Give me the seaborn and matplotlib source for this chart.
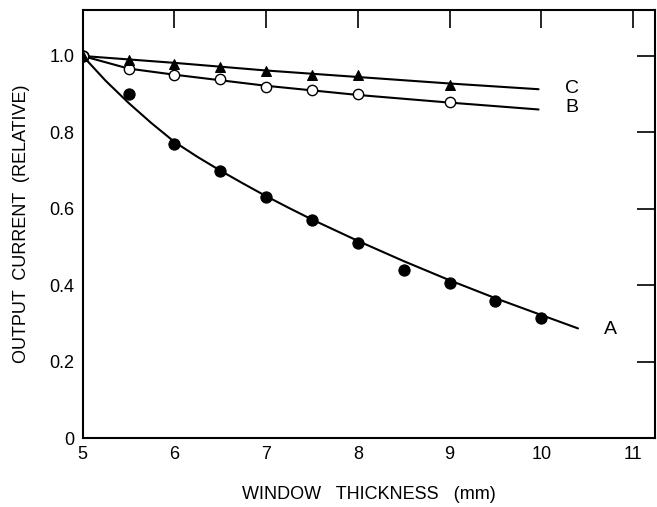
import matplotlib
matplotlib.use("Agg")
import matplotlib.pyplot as plt
import seaborn as sns
import pandas as pd

# Measured points
a_x = [5, 5.5, 6, 6.5, 7, 7.5, 8, 8.5, 9, 9.5, 10]
a_y = [1.0, 0.90, 0.77, 0.70, 0.63, 0.57, 0.51, 0.44, 0.405, 0.36, 0.315]
b_x = [5, 5.5, 6, 6.5, 7, 7.5, 8, 9]
b_y = [1.0, 0.965, 0.95, 0.94, 0.92, 0.91, 0.90, 0.88]
c_x = [5, 5.5, 6, 6.5, 7, 7.5, 8, 9]
c_y = [1.0, 0.99, 0.98, 0.97, 0.96, 0.95, 0.95, 0.925]

# Fitted curves
fa_x = [5, 5.25, 5.5, 5.75, 6, 6.25, 6.5, 6.75, 7, 7.25, 7.5, 8, 8.5, 9, 9.5, 10, 10.4]
fa_y = [1.0, 0.935, 0.877, 0.824, 0.775, 0.736, 0.700, 0.666, 0.633, 0.602, 0.572, 0.516, 0.463, 0.413, 0.366, 0.322, 0.287]
fb_x = [5, 5.5, 6, 7, 8, 9, 9.97]
fb_y = [1.0, 0.967, 0.951, 0.922, 0.898, 0.878, 0.860]
fc_x = [5, 6, 7, 8, 9, 9.97]
fc_y = [1.0, 0.982, 0.962, 0.945, 0.928, 0.913]

x_ticks = [5, 6, 7, 8, 9, 10, 11]
x_labels = ["5", "6", "7", "8", "9", "10", "11"]
y_ticks = [0, 0.2, 0.4, 0.6, 0.8, 1.0]
y_labels = ["0", "0.2", "0.4", "0.6", "0.8", "1.0"]

sns.set_style("white")
plt.rcParams['font.family'] = ['Liberation Sans', 'DejaVu Sans']
plt.rcParams['text.color'] = 'black'
plt.rcParams['axes.labelcolor'] = 'black'

fig = plt.figure(figsize=(6.57, 5.07), dpi=100)
ax = fig.add_axes([0.126, 0.136, 0.871, 0.844])

for fx, fy in [(fa_x, fa_y), (fb_x, fb_y), (fc_x, fc_y)]:
    sns.lineplot(x=fx, y=fy, ax=ax, color="black", linewidth=1.5, sort=False)

sns.scatterplot(x=a_x, y=a_y, ax=ax, marker="o", s=65, color="black",
                edgecolor="black", linewidth=0.8, zorder=5)
sns.scatterplot(x=b_x, y=b_y, ax=ax, marker="o", s=55, facecolor="white",
                edgecolor="black", linewidth=1.0, zorder=5)
sns.scatterplot(x=c_x, y=c_y, ax=ax, marker="^", s=50, color="black",
                edgecolor="black", linewidth=0.8, zorder=5)

ax.text(10.26, 0.916, "C", fontsize=14, ha="left", va="center")
ax.text(10.26, 0.864, "B", fontsize=14, ha="left", va="center")
ax.text(10.75, 0.283, "A", fontsize=14, ha="center", va="center")

ax.set_xlim(5, 11.24)
ax.set_ylim(0, 1.12)
ax.set_xticks(x_ticks)
ax.set_xticklabels(x_labels)
ax.set_yticks(y_ticks)
ax.set_yticklabels(y_labels)
ax.tick_params(direction="in", top=True, right=True, length=13, width=1.2,
               labelsize=13, pad=6, colors="black")
for s in ax.spines.values():
    s.set_color("black")
    s.set_linewidth(1.5)

ax.set_xlabel("WINDOW   THICKNESS   (mm)", fontsize=13, labelpad=16)
ax.set_ylabel("OUTPUT  CURRENT  (RELATIVE)", fontsize=13, labelpad=14)

fig.savefig("out.png", dpi=100)
